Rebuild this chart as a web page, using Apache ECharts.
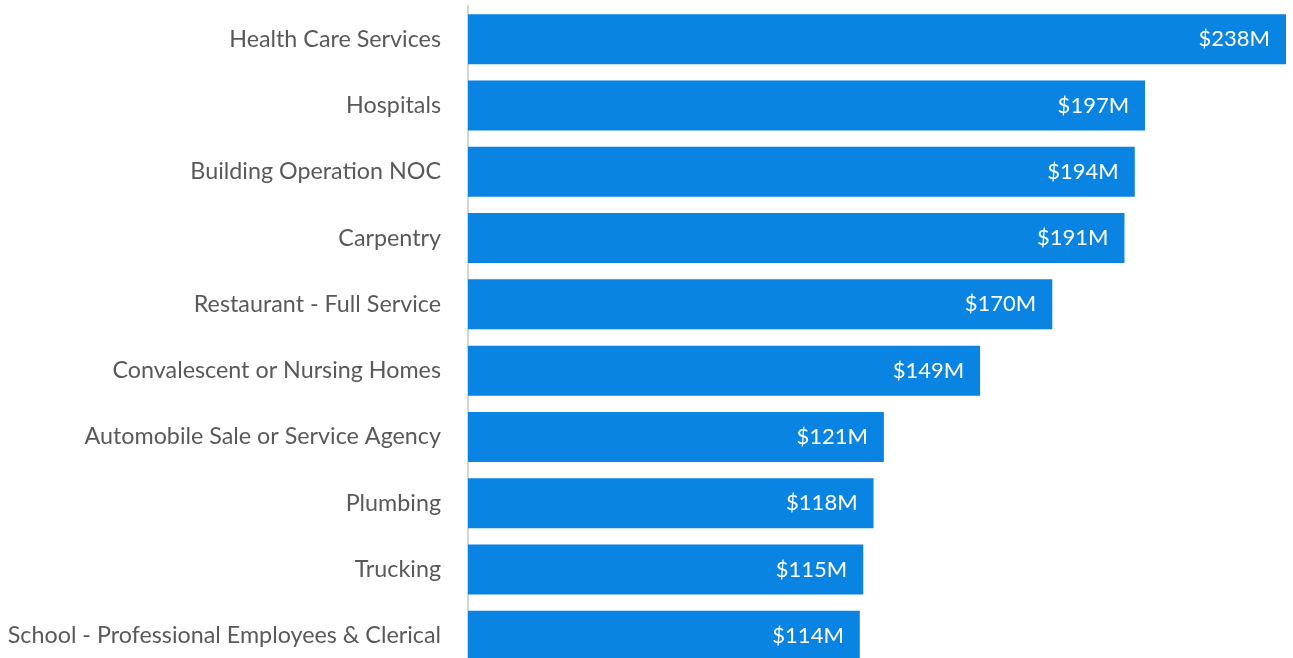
<!DOCTYPE html>
<html>
<head>
<meta charset="utf-8">
<script src="https://cdn.jsdelivr.net/npm/echarts@6/dist/echarts.min.js"></script>
<style>
  html, body { margin: 0; padding: 0; background: #fff; overflow: hidden; }
  /* the last row runs slightly past the bottom edge of the page */
  #chart { width: 1293px; height: 669px; }
</style>
</head>
<body>
<div id="chart"></div>
<script>
// Industry categories, top to bottom
const categories = [
  'Health Care Services',
  'Hospitals',
  'Building Operation NOC',
  'Carpentry',
  'Restaurant - Full Service',
  'Convalescent or Nursing Homes',
  'Automobile Sale or Service Agency',
  'Plumbing',
  'Trucking',
  'School - Professional Employees & Clerical'
];

// Totals in millions of dollars
const values = [238, 197, 194, 191, 170, 149, 121, 118, 115, 114];

const chart = echarts.init(document.getElementById('chart'));

chart.setOption({
  animation: false,
  grid: { left: 468, right: 7, top: 6, bottom: 0, containLabel: false },
  xAxis: {
    type: 'value',
    min: 0,
    max: 238,
    show: false
  },
  yAxis: {
    type: 'category',
    data: categories,
    inverse: true,
    axisLine: { show: true, lineStyle: { color: '#d4d4d4', width: 2 } },
    axisTick: { show: false },
    axisLabel: {
      margin: 27,
      color: '#595959',
      fontSize: 23.3,
      fontFamily: 'Lato'
    }
  },
  series: [{
    type: 'bar',
    data: values,
    barWidth: 50,
    itemStyle: { color: '#0a84e2' },
    label: {
      show: true,
      position: 'insideRight',
      distance: 16,
      color: '#ffffff',
      fontSize: 22,
      fontFamily: 'Lato',
      formatter: p => '$' + p.value + 'M'
    }
  }]
});
</script>
</body>
</html>
